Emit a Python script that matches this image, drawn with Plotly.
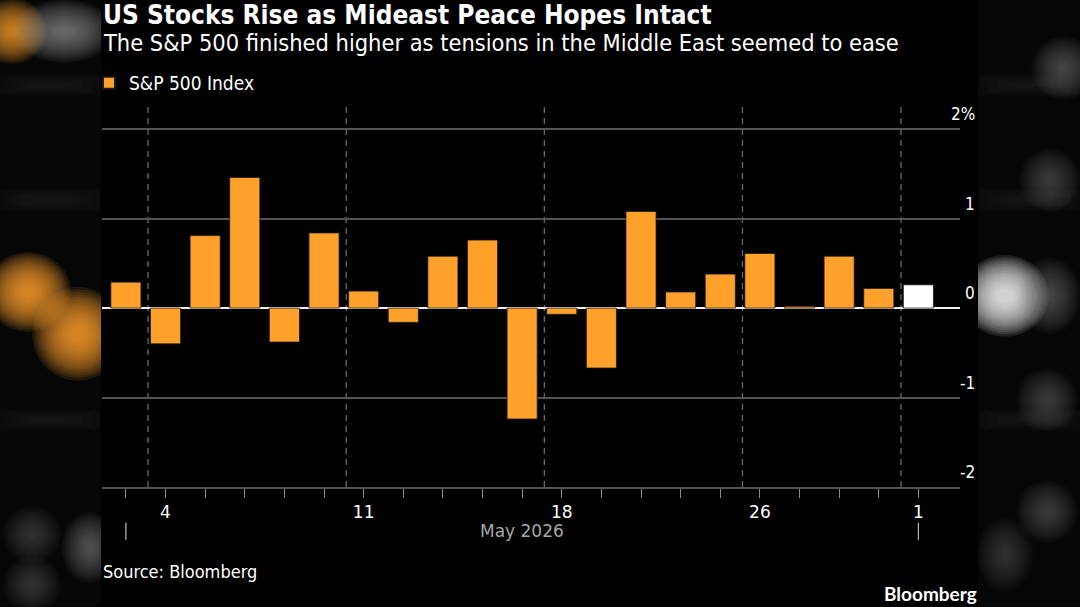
import plotly.graph_objects as go
import datetime as dt

# ---------------- data ----------------
dates = ["2026-05-01", "2026-05-04", "2026-05-05", "2026-05-06", "2026-05-07", "2026-05-08",
         "2026-05-11", "2026-05-12", "2026-05-13", "2026-05-14", "2026-05-15",
         "2026-05-18", "2026-05-19", "2026-05-20", "2026-05-21", "2026-05-22",
         "2026-05-26", "2026-05-27", "2026-05-28", "2026-05-29",
         "2026-06-01"]
pct_change = [0.29, -0.40, 0.81, 1.46, -0.38, 0.84,
              0.19, -0.16, 0.58, 0.76, -1.24,
              -0.07, -0.67, 1.08, 0.18, 0.38,
              0.61, 0.02, 0.58, 0.22,
              0.26]
series_name = "S&P 500 Index"
y_tick_vals = [-2, -1, 0, 1, 2]
y_tick_text = ["-2", "-1", "0", "1", "2%"]
month_label = "May 2026"

# ---------------- styling ----------------
ORANGE = "#FFA12B"
WHITE = "#FFFFFF"
GRID = "#545454"
COND = "Liberation Sans Narrow, DejaVu Sans Condensed, Arial Narrow, sans-serif"
TICKF = "DejaVu Sans Condensed, Liberation Sans Narrow, sans-serif"
XTICKF = "DejaVu Sans, sans-serif"

W, H = 1080, 607
L, R, T, B = 102, 120, 105, 119.7
PW, PH = W - L - R, H - T - B


def px_x(px):
    return (px - L) / PW


def px_y(py):
    return (H - B - py) / PH


d = [dt.date.fromisoformat(s) for s in dates]
xs = list(range(len(d)))
colors = [ORANGE] * (len(d) - 1) + [WHITE]

# tick labels: first trading day of each week / month
tick_text = []
for i, day in enumerate(d):
    if i > 0 and (day.weekday() < d[i - 1].weekday() or day.month != d[i - 1].month):
        tick_text.append(str(day.day))
    else:
        tick_text.append("")

fig = go.Figure()
fig.add_trace(go.Bar(
    x=xs, y=pct_change, name=series_name,
    marker=dict(color=colors, line=dict(color="#1a1a1a", width=0.8)),
    showlegend=True,
))

shapes = []


# soft blurred background decorations at both sides
def blob(cx, cy, w, h, color, alpha, n=16, spread=18, kind="circle"):
    for k in range(n):
        f = k / (n - 1)
        ew = -w * 0.35 + (w * 0.35 + spread) * f
        eh = -h * 0.35 + (h * 0.35 + spread) * f
        shapes.append(dict(type=kind, xref="paper", yref="paper",
                           x0=px_x(cx - w / 2 - ew), x1=px_x(cx + w / 2 + ew),
                           y0=px_y(cy + h / 2 + eh), y1=px_y(cy - h / 2 - eh),
                           fillcolor=color, opacity=alpha / n * 1.7, line=dict(width=0),
                           layer="below"))


shapes.append(dict(type="rect", xref="paper", yref="paper", x0=px_x(0), x1=px_x(1080),
                   y0=px_y(607), y1=px_y(0), fillcolor="#060606", line=dict(width=0), layer="below"))
blob(12, 31, 34, 30, ORANGE, 0.8)
blob(64, 31, 66, 28, "#9a9a9a", 0.6)
blob(28, 292, 50, 44, ORANGE, 1.0)
blob(78, 334, 56, 58, ORANGE, 1.0)
for yy in (85, 200, 420):
    blob(50, yy, 100, 6, "#333333", 0.25, n=6, spread=8, kind="rect")
    blob(1030, yy, 100, 6, "#333333", 0.25, n=6, spread=8, kind="rect")
blob(32, 535, 24, 24, "#777777", 0.3)
blob(90, 548, 22, 36, "#999999", 0.45)
blob(32, 585, 24, 24, "#777777", 0.3)
blob(1005, 296, 52, 46, "#ffffff", 1.0)
blob(1050, 296, 26, 42, "#888888", 0.45)
blob(1063, 68, 28, 28, "#888888", 0.45)
blob(1050, 180, 26, 28, "#777777", 0.4)
blob(1047, 400, 26, 28, "#777777", 0.4)
blob(1047, 512, 26, 28, "#777777", 0.4)
blob(1005, 555, 22, 40, "#777777", 0.35)
# clean central chart panel
shapes.append(dict(type="rect", xref="paper", yref="paper", x0=px_x(101), x1=px_x(978),
                   y0=px_y(607), y1=px_y(0), fillcolor="#000000", line=dict(width=0), layer="below"))

# week separators (dashed)
for i in range(1, len(d)):
    if d[i].weekday() < d[i - 1].weekday():
        xv = i - 0.5 + 0.06
        shapes.append(dict(type="line", xref="x", yref="paper", x0=xv, x1=xv, y0=0, y1=1,
                           line=dict(color="#6a6a6a", width=1.3, dash="6px,5px"), layer="below"))
# month boundary marks
for i in range(len(d)):
    if i == 0 or d[i].month != d[i - 1].month:
        shapes.append(dict(type="line", xref="x", yref="paper", x0=i, x1=i,
                           y0=px_y(523), y1=px_y(540), line=dict(color="#bbbbbb", width=1.2)))

annotations = []
# y tick labels (right side, right aligned, above gridlines)
for v, t in zip(y_tick_vals, y_tick_text):
    annotations.append(dict(xref="paper", yref="y", x=px_x(977), y=v, text=t, showarrow=False,
                            xanchor="right", yanchor="middle", yshift=15,
                            font=dict(family=TICKF, size=17, color=WHITE)))
# month label
month_positions = [i for i in range(len(d)) if i == 0 or d[i].month != d[i - 1].month]
annotations.append(dict(xref="x", yref="paper", x=(month_positions[0] + month_positions[-1]) / 2,
                        y=px_y(531), text=month_label, showarrow=False, xanchor="center",
                        yanchor="middle", font=dict(family=XTICKF, size=17, color="#a8a8a8")))
# titles
annotations.append(dict(xref="paper", yref="paper", x=px_x(101), y=px_y(15),
                        text="<b>US Stocks Rise as Mideast Peace Hopes Intact</b>", showarrow=False,
                        xanchor="left", yanchor="middle", font=dict(family=COND, size=26, color=WHITE)))
annotations.append(dict(xref="paper", yref="paper", x=px_x(101), y=px_y(43),
                        text="The S&P 500 finished higher as tensions in the Middle East seemed to ease",
                        showarrow=False, xanchor="left", yanchor="middle",
                        font=dict(family=COND, size=23.4, color=WHITE)))
annotations.append(dict(xref="paper", yref="paper", x=px_x(101), y=px_y(572),
                        text="Source: Bloomberg", showarrow=False, xanchor="left", yanchor="middle",
                        font=dict(family=COND, size=18, color=WHITE)))
annotations.append(dict(xref="paper", yref="paper", x=px_x(979), y=px_y(594),
                        text="<b>Bloomberg</b>", showarrow=False, xanchor="right", yanchor="middle",
                        font=dict(family="Lato, Open Sans, sans-serif", size=19, color=WHITE)))

fig.update_layout(
    width=W, height=H,
    margin=dict(l=L, r=R, t=T, b=B, pad=0),
    paper_bgcolor="#000000", plot_bgcolor="rgba(0,0,0,0)",
    bargap=0.24,
    shapes=shapes, annotations=annotations,
    showlegend=True,
    legend=dict(x=px_x(89), y=px_y(83), xanchor="left", yanchor="middle", orientation="h",
                font=dict(family=COND, size=19, color=WHITE), bgcolor="rgba(0,0,0,0)",
                itemsizing="constant"),
    xaxis=dict(range=[-0.603, 21.05], tickmode="array", tickvals=xs, ticktext=tick_text,
               ticks="outside", ticklen=9, tickcolor="#8a8a8a", tickwidth=1,
               showgrid=False, zeroline=False, showline=True, linecolor=GRID, linewidth=1.5,
               tickfont=dict(family=XTICKF, size=17, color=WHITE), fixedrange=True),
    yaxis=dict(range=[-2, 2.27], tickvals=y_tick_vals, showticklabels=False,
               showgrid=True, gridcolor=GRID, gridwidth=1.5,
               zeroline=True, zerolinecolor="#f0f0f0", zerolinewidth=2, fixedrange=True),
)

fig.write_html("out.html")
